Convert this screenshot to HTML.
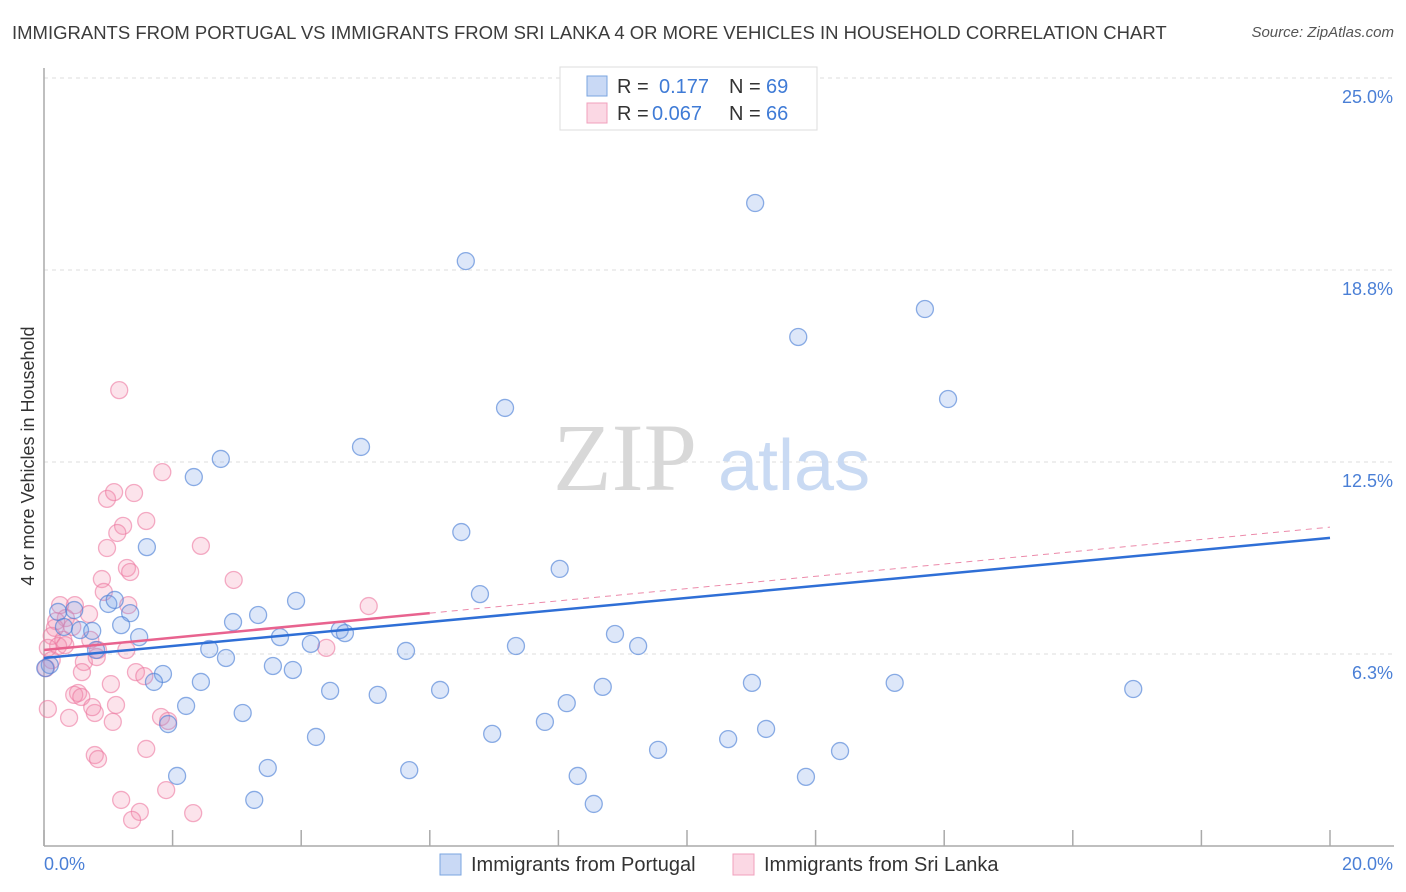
<!DOCTYPE html>
<html><head><meta charset="utf-8">
<style>
body{margin:0;background:#fff;font-family:"Liberation Sans",sans-serif;}
#wrap{position:relative;width:1406px;height:892px;overflow:hidden;}
.t{position:absolute;white-space:nowrap;}
</style></head><body>
<div id="wrap">
<div class="t" style="left:12px;top:22px;font-size:18.5px;color:#3c3c3c;">IMMIGRANTS FROM PORTUGAL VS IMMIGRANTS FROM SRI LANKA 4 OR MORE VEHICLES IN HOUSEHOLD CORRELATION CHART</div>
<div class="t" style="right:12px;top:24px;font-size:15px;color:#555;font-style:italic;">Source: ZipAtlas.com</div>
<svg id="chart" width="1406" height="892" style="position:absolute;left:0;top:0"></svg>
</div>
<script>
const yTicks=[6.25,12.5,18.75,25];
const yTickLabels=["6.3%","12.5%","18.8%","25.0%"];
const xTickLabels=["0.0%","20.0%"];
const portugalX=[11.06,6.56,13.70,11.73,14.06,7.17,4.93,2.75,2.33,6.49,1.60,8.02,6.78,3.92,3.33,2.94,1.00,1.34,1.10,1.20,1.48,0.22,0.47,0.56,0.75,0.31,4.60,4.68,4.15,3.67,8.88,9.24,7.34,5.63,2.57,2.83,0.81,1.85,1.71,2.44,3.56,3.87,4.45,5.19,6.16,8.69,11.01,13.23,16.94,2.21,3.09,1.93,8.13,7.79,6.97,4.23,9.55,10.64,11.23,12.38,3.48,2.07,5.68,8.30,11.85,3.27,8.55,0.09,0.02];
const portugalY=[20.93,19.04,17.48,16.57,14.55,14.26,12.99,12.60,12.01,10.22,9.73,9.02,8.20,7.98,7.52,7.29,7.88,7.58,8.01,7.19,6.80,7.62,7.68,7.03,7.00,7.13,7.03,6.93,6.58,6.80,6.90,6.51,6.51,6.35,6.41,6.12,6.38,5.60,5.34,5.34,5.86,5.73,5.05,4.92,5.08,5.18,5.31,5.31,5.11,4.56,4.33,3.97,4.65,4.04,3.65,3.55,3.13,3.48,3.81,3.09,2.54,2.28,2.47,2.28,2.25,1.50,1.37,5.89,5.79];
const sriLankaX=[1.17,1.84,0.98,1.09,1.40,1.59,1.23,1.14,2.44,0.98,1.29,1.34,2.95,0.90,0.25,0.48,0.93,1.31,5.05,0.70,0.34,0.19,0.44,0.12,0.30,0.22,0.06,0.33,0.72,0.84,1.28,4.39,0.62,0.82,0.12,0.59,1.43,1.56,1.04,0.53,0.47,0.58,0.06,1.12,0.79,0.39,1.07,1.82,0.75,1.93,1.59,0.79,0.84,1.20,1.49,1.90,1.37,2.32,0.03,0.17];
const sriLankaY=[14.84,12.17,11.30,11.52,11.49,10.58,10.42,10.19,9.77,9.70,9.05,8.92,8.66,8.69,7.84,7.84,8.27,7.84,7.81,7.55,7.42,7.32,7.13,6.84,6.71,6.51,6.45,6.54,6.71,6.38,6.38,6.45,5.99,6.15,6.05,5.66,5.66,5.53,5.27,4.98,4.92,4.85,4.46,4.59,4.33,4.17,4.04,4.20,4.52,4.07,3.16,2.96,2.83,1.50,1.11,1.82,0.85,1.07,5.79,7.10];
const portugalTrend=[6.12,10.03];
const sriLankaTrend=[6.38,8.38];

const NS="http://www.w3.org/2000/svg";
const svg=document.getElementById('chart');
const X=v=>44+v*64.3;
const Y=v=>846-v*30.72;
function mk(tag,attrs){const e=document.createElementNS(NS,tag);for(const k in attrs)e.setAttribute(k,attrs[k]);svg.appendChild(e);return e;}

// gridlines + y labels
yTicks.forEach((v,i)=>{
  const g=mk('line',{x1:44,x2:1394,y1:Y(v),y2:Y(v),stroke:'#ddd','stroke-dasharray':'4,4'});
  
  
  const t=mk('text',{x:1393,y:Y(v)+25,'text-anchor':'end','font-size':18,fill:'#4a7fd6','font-family':'Liberation Sans, sans-serif'});
  t.textContent=yTickLabels[i];
  
  
});
// axes
const ya=mk('line',{x1:44,x2:44,y1:68,y2:846,stroke:'#aaa','stroke-width':1.5});


const xa=mk('line',{x1:44,x2:1394,y1:846,y2:846,stroke:'#aaa','stroke-width':1.5});


for(let i=0;i<=10;i++){
  const tk=mk('line',{x1:X(i*2),x2:X(i*2),y1:830,y2:846,stroke:'#aaa','stroke-width':1.5});
  
  
}
const xl0=mk('text',{x:44,y:870,'font-size':18,fill:'#4a7fd6','font-family':'Liberation Sans, sans-serif'});
xl0.textContent=xTickLabels[0];


const xl1=mk('text',{x:1393,y:870,'text-anchor':'end','font-size':18,fill:'#4a7fd6','font-family':'Liberation Sans, sans-serif'});
xl1.textContent=xTickLabels[1];


const yt=mk('text',{x:34,y:456,transform:'rotate(-90 34 456)','text-anchor':'middle','font-size':18,fill:'#333','font-family':'Liberation Sans, sans-serif'});
yt.textContent='4 or more Vehicles in Household';



// watermark
const wm1=mk('text',{x:553,y:490,'font-size':96,fill:'#d8d8d8','font-family':'Liberation Serif, serif'});
wm1.textContent='ZIP';


const wm2=mk('text',{x:718,y:490,'font-size':72,fill:'#c9daf3','font-family':'Liberation Sans, sans-serif'});
wm2.textContent='atlas';



// points
sriLankaX.forEach((x,i)=>{
  const c=mk('circle',{cx:X(x),cy:Y(sriLankaY[i]),r:8.5,fill:'rgba(244,143,177,0.25)',stroke:'rgba(236,120,160,0.6)','stroke-width':1.3});
  
  
});
portugalX.forEach((x,i)=>{
  const c=mk('circle',{cx:X(x),cy:Y(portugalY[i]),r:8.5,fill:'rgba(120,160,230,0.25)',stroke:'rgba(80,130,215,0.65)','stroke-width':1.3});
  
  
});
// trends
const pt=mk('line',{x1:X(0),y1:Y(portugalTrend[0]),x2:X(20),y2:Y(portugalTrend[1]),stroke:'#2f6fd6','stroke-width':2.5});


const sl=(sriLankaTrend[1]-sriLankaTrend[0])/10;
const st=mk('line',{x1:X(0),y1:Y(sriLankaTrend[0]),x2:X(6),y2:Y(sriLankaTrend[0]+sl*6),stroke:'#e8638f','stroke-width':2.5});


const sd=mk('line',{x1:X(6),y1:Y(sriLankaTrend[0]+sl*6),x2:X(20),y2:Y(sriLankaTrend[0]+sl*20),stroke:'#ec8aaa','stroke-width':1,'stroke-dasharray':'6,5'});



// legend box
const lb=mk('rect',{x:560,y:67,width:257,height:63,fill:'#fff',stroke:'#ddd'});


const r1=mk('rect',{x:587,y:76,width:20,height:20,fill:'rgba(120,160,230,0.4)',stroke:'#7aa5e0'});


const r2=mk('rect',{x:587,y:103,width:20,height:20,fill:'rgba(244,143,177,0.35)',stroke:'#f0a0bd'});


function lt(x,y,s,c,name){const t=mk('text',{x:x,y:y,'font-size':20,fill:c,'font-family':'Liberation Sans, sans-serif'});t.textContent=s;}
lt(617,93,'R =','#333','legend-r-label');
lt(659,93,'0.177','#3f7bd6','legend-r-portugal');
lt(729,93,'N =','#333','legend-n-label');
lt(766,93,'69','#3f7bd6','legend-n-portugal');
lt(617,120,'R =','#333','legend-r-label');
lt(652,120,'0.067','#3f7bd6','legend-r-sri-lanka');
lt(729,120,'N =','#333','legend-n-label');
lt(766,120,'66','#3f7bd6','legend-n-sri-lanka');

// bottom legend
const b1=mk('rect',{x:440,y:854,width:21,height:21,fill:'rgba(120,160,230,0.4)',stroke:'#7aa5e0'});


lt(471,871,'Immigrants from Portugal','#333','legend-entry-portugal');
const b2=mk('rect',{x:733,y:854,width:21,height:21,fill:'rgba(244,143,177,0.35)',stroke:'#f0a0bd'});


lt(764,871,'Immigrants from Sri Lanka','#333','legend-entry-sri-lanka');
</script>
</body></html>
